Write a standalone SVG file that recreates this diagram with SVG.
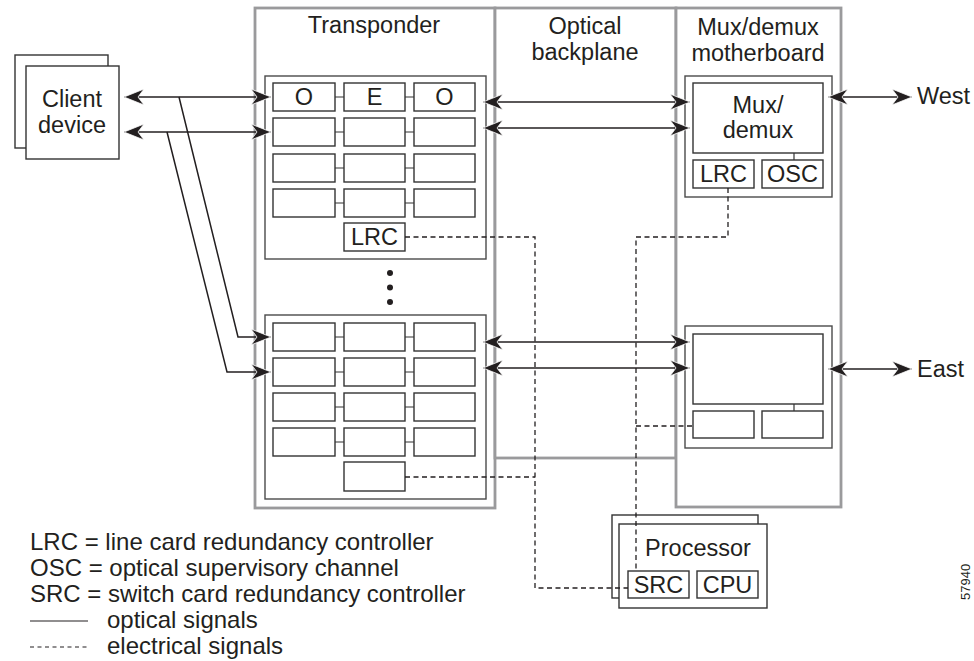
<svg xmlns="http://www.w3.org/2000/svg" width="974" height="661" viewBox="0 0 974 661">
<defs>
<style>
text{font-family:"Liberation Sans",Arial,sans-serif;font-size:23.5px;fill:#231f20}
.mid{text-anchor:middle}
.frame{fill:#fff;stroke:#9a9a9c;stroke-width:2.8}
.card{fill:#fff;stroke:#4a4a4a;stroke-width:1.4}
.box{fill:#fff;stroke:#333;stroke-width:1.4}
.link{stroke:#333;stroke-width:1.2;fill:none}
.opt{stroke:#231f20;stroke-width:1.5;fill:none}
.el{stroke:#231f20;stroke-width:1.3;fill:none;stroke-dasharray:5 3.5}
.leg{font-size:24px}
</style>
<marker id="ah" viewBox="-1 -1 23 18" refX="20" refY="8" markerWidth="23" markerHeight="18" markerUnits="userSpaceOnUse" orient="auto-start-reverse">
<path d="M0,0 L20,8 L0,16 L6,8 Z" fill="#231f20" stroke="#fff" stroke-width="0.8" stroke-linejoin="round"/>
</marker>
</defs>
<rect width="974" height="661" fill="#fff"/>

<g id="transponder">
<rect class="frame" x="255" y="8" width="240" height="500"/>
<text class="mid" x="374" y="33">Transponder</text>
</g>
<g id="backplane">
<rect class="frame" x="495" y="8" width="181" height="450"/>
<text class="mid" x="585" y="34">Optical</text>
<text class="mid" x="585" y="60">backplane</text>
</g>
<g id="motherboard">
<rect class="frame" x="676" y="8" width="165" height="499"/>
<text class="mid" x="758" y="35">Mux/demux</text>
<text class="mid" x="758" y="61">motherboard</text>
</g>

<g id="client">
<rect class="box" x="15" y="55" width="93" height="93"/>
<rect class="box" x="26" y="66" width="93" height="93"/>
<text class="mid" x="72" y="107">Client</text>
<text class="mid" x="72" y="133">device</text>
</g>

<g id="card1">
<rect class="card" x="265" y="76" width="221" height="183"/>
<g class="link">
<path d="M335,97H344M405,97H414M335,132H344M405,132H414M335,168H344M405,168H414M335,203H344M405,203H414"/>
</g>
<rect class="box" x="273" y="83" width="62" height="28"/>
<rect class="box" x="344" y="83" width="61" height="28"/>
<rect class="box" x="414" y="83" width="61" height="28"/>
<rect class="box" x="273" y="118" width="62" height="28"/>
<rect class="box" x="344" y="118" width="61" height="28"/>
<rect class="box" x="414" y="118" width="61" height="28"/>
<rect class="box" x="273" y="154" width="62" height="28"/>
<rect class="box" x="344" y="154" width="61" height="28"/>
<rect class="box" x="414" y="154" width="61" height="28"/>
<rect class="box" x="273" y="189" width="62" height="28"/>
<rect class="box" x="344" y="189" width="61" height="28"/>
<rect class="box" x="414" y="189" width="61" height="28"/>
<rect class="box" x="344" y="223" width="61" height="28"/>
<text class="mid" x="304" y="105">O</text>
<text class="mid" x="374.5" y="105">E</text>
<text class="mid" x="444.5" y="105">O</text>
<text class="mid" x="374.5" y="245">LRC</text>
</g>

<g id="dots" fill="#231f20">
<circle cx="390" cy="273" r="3"/>
<circle cx="390" cy="287.5" r="3"/>
<circle cx="390" cy="302" r="3"/>
</g>

<g id="card2">
<rect class="card" x="265" y="315" width="221" height="184"/>
<g class="link">
<path d="M335,337H344M405,337H414M335,372H344M405,372H414M335,407H344M405,407H414M335,442H344M405,442H414"/>
</g>
<rect class="box" x="273" y="323" width="62" height="28"/>
<rect class="box" x="344" y="323" width="61" height="28"/>
<rect class="box" x="414" y="323" width="61" height="28"/>
<rect class="box" x="273" y="358" width="62" height="28"/>
<rect class="box" x="344" y="358" width="61" height="28"/>
<rect class="box" x="414" y="358" width="61" height="28"/>
<rect class="box" x="273" y="393" width="62" height="28"/>
<rect class="box" x="344" y="393" width="61" height="28"/>
<rect class="box" x="414" y="393" width="61" height="28"/>
<rect class="box" x="273" y="428" width="62" height="28"/>
<rect class="box" x="344" y="428" width="61" height="28"/>
<rect class="box" x="414" y="428" width="61" height="28"/>
<rect class="box" x="344" y="462" width="61" height="29"/>
</g>

<g id="muxcard1">
<rect class="card" x="685" y="76" width="147" height="121"/>
<path class="link" d="M794,153V160"/>
<rect class="box" x="693" y="83" width="130" height="70"/>
<rect class="box" x="693" y="160" width="61" height="28"/>
<rect class="box" x="762" y="160" width="61" height="28"/>
<text class="mid" x="758" y="113">Mux/</text>
<text class="mid" x="758" y="138">demux</text>
<text class="mid" x="723.5" y="182">LRC</text>
<text class="mid" x="792.5" y="182">OSC</text>
</g>

<g id="muxcard2">
<rect class="card" x="685" y="326" width="147" height="122"/>
<path class="link" d="M794,404V411"/>
<rect class="box" x="693" y="334" width="130" height="70"/>
<rect class="box" x="693" y="411" width="61" height="27"/>
<rect class="box" x="762" y="411" width="61" height="27"/>
</g>

<g id="processor">
<rect class="box" x="612" y="515" width="146" height="83"/>
<rect class="box" x="619" y="524" width="148" height="84"/>
<text class="mid" x="698" y="556">Processor</text>
<rect class="box" x="628" y="571" width="61" height="27"/>
<rect class="box" x="697" y="571" width="61" height="27"/>
<text class="mid" x="658.5" y="593">SRC</text>
<text class="mid" x="727.5" y="593">CPU</text>
</g>

<g id="connectors">
<g class="el">
<path d="M405,237H535V588H628"/>
<path d="M405,477H535"/>
<path d="M728,188V237H636V571"/>
<path d="M636,426H693"/>
</g>
<g class="opt">
<path d="M124,97H271" marker-start="url(#ah)" marker-end="url(#ah)"/>
<path d="M124,132H271" marker-start="url(#ah)" marker-end="url(#ah)"/>
<path d="M179,97L238,337H271" marker-end="url(#ah)"/>
<path d="M167,132L227,372H271" marker-end="url(#ah)"/>
<path d="M483,102H690" marker-start="url(#ah)" marker-end="url(#ah)"/>
<path d="M483,128H690" marker-start="url(#ah)" marker-end="url(#ah)"/>
<path d="M483,342H690" marker-start="url(#ah)" marker-end="url(#ah)"/>
<path d="M483,368H690" marker-start="url(#ah)" marker-end="url(#ah)"/>
<path d="M828,97H912" marker-start="url(#ah)" marker-end="url(#ah)"/>
<path d="M828,369H912" marker-start="url(#ah)" marker-end="url(#ah)"/>
</g>
</g>

<g id="labels">
<text x="917" y="104">West</text>
<text x="917" y="377">East</text>
</g>

<g id="legend" class="leg">
<text class="leg" x="30" y="550">LRC = line card redundancy controller</text>
<text class="leg" x="30" y="576">OSC = optical supervisory channel</text>
<text class="leg" x="30" y="602">SRC = switch card redundancy controller</text>
<path class="opt" d="M30,621H88" style="stroke-width:1.2"/>
<text class="leg" x="107" y="628">optical signals</text>
<path class="el" d="M30,647H88" style="stroke-dasharray:4 3.5;stroke-width:1.1"/>
<text class="leg" x="107" y="654">electrical signals</text>
</g>

<text x="970" y="600" transform="rotate(-90 970 600)" style="font-size:13px">57940</text>
</svg>
